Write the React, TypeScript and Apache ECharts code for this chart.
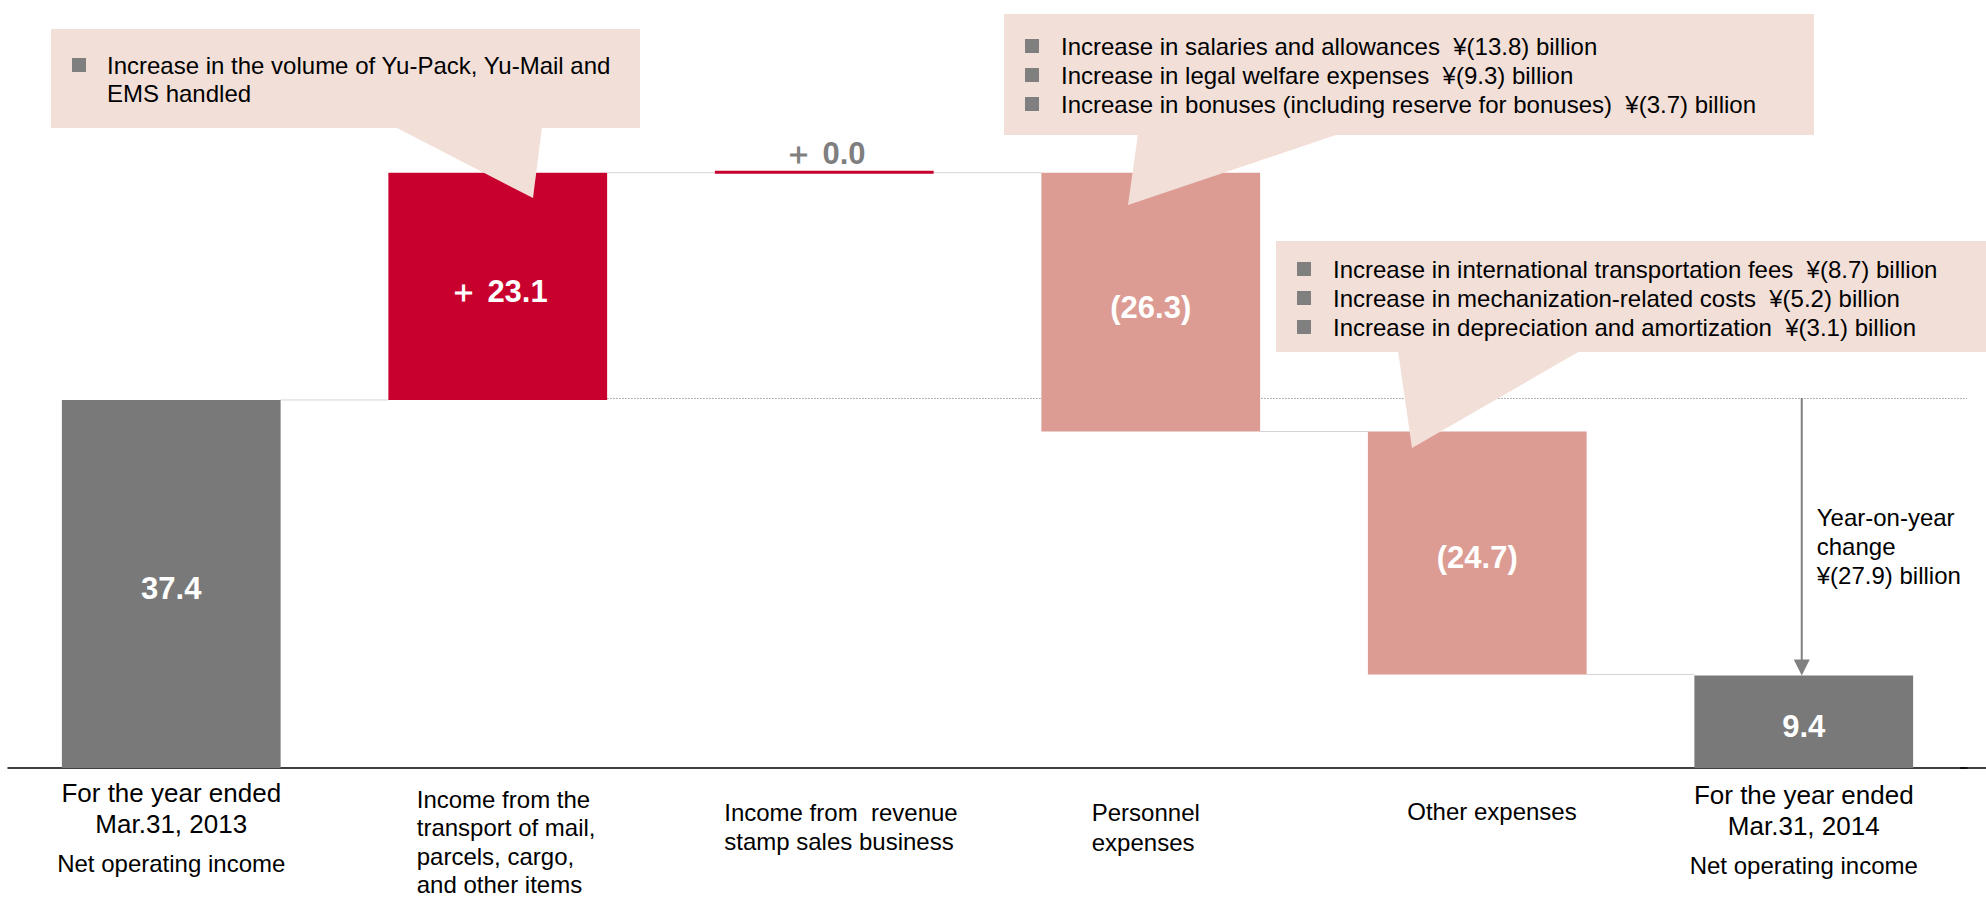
import React, { useEffect, useRef } from 'react';
import * as echarts from 'echarts';

const FONT = "'Liberation Sans', Arial, Helvetica, sans-serif";
const CALLOUT = '#F2DFD8';
const GRAY = '#797979';
const RED = '#C8002E';
const PINK = '#DC9C93';
const BULLET = '#7F7F7F';

const categories = [
  'For the year ended\nMar.31, 2013\nNet operating income',
  'Income from the\ntransport of mail,\nparcels, cargo,\nand other items',
  'Income from  revenue\nstamp sales business',
  'Personnel\nexpenses',
  'Other expenses',
  'For the year ended\nMar.31, 2014\nNet operating income',
];
const startValue = 37.4;
const deltas = [23.1, 0.0, -26.3, -24.7];
const endValue = 9.4;
const barLabels = ['37.4', '\uFF0B 23.1', '\uFF0B 0.0', '(26.3)', '(24.7)', '9.4'];
const yoyLines = ['Year-on-year', 'change', '\u00A5(27.9) billion'];
const callout1Lines = ['Increase in the volume of Yu-Pack, Yu-Mail and', 'EMS handled'];
const callout2Lines = [
  'Increase in salaries and allowances  \u00A5(13.8) billion',
  'Increase in legal welfare expenses  \u00A5(9.3) billion',
  'Increase in bonuses (including reserve for bonuses)  \u00A5(3.7) billion',
];
const callout3Lines = [
  'Increase in international transportation fees  \u00A5(8.7) billion',
  'Increase in mechanization-related costs  \u00A5(5.2) billion',
  'Increase in depreciation and amortization  \u00A5(3.1) billion',
];

// per-category label box padding [top, right, bottom, left]
const labelPads = [
  [0, 0, 0, 0],
  [8, 0, 0, 18],
  [21, 0, 0, 34],
  [20, 8, 0, 0],
  [20, 0, 0, 30],
  [2, 0, 0, 0],
];

function buildItems() {
  // [index, low, high, kind, endLevel]; kind 0 total, 1 up, 2 down, 3 flat
  const items: number[][] = [];
  items.push([0, 0, startValue, 0, startValue]);
  let level = startValue;
  deltas.forEach((d, k) => {
    const next = level + d;
    const kind = d > 0 ? 1 : d < 0 ? 2 : 3;
    items.push([k + 1, Math.min(level, next), Math.max(level, next), kind, next]);
    level = next;
  });
  items.push([categories.length - 1, 0, endValue, 0, endValue]);
  return items;
}

function callout(
  box: number[],
  tail: number[][],
  lines: string[],
  bullets: boolean[],
  bulletX: number,
  textX: number,
  firstY: number,
  lineH: number
) {
  const els: any[] = [
    { type: 'rect', z: 100, shape: { x: box[0], y: box[1], width: box[2], height: box[3] }, style: { fill: CALLOUT } },
    { type: 'polygon', z: 100, shape: { points: tail }, style: { fill: CALLOUT } },
  ];
  lines.forEach((t, k) => {
    const cy = firstY + k * lineH;
    if (bullets[k]) {
      els.push({ type: 'rect', z: 101, shape: { x: bulletX, y: cy - 7, width: 14, height: 14 }, style: { fill: BULLET } });
    }
    els.push({
      type: 'text',
      z: 101,
      x: textX,
      y: cy,
      style: { text: t, fontSize: 24, fontFamily: FONT, fill: '#000', verticalAlign: 'middle', align: 'left' },
    });
  });
  return els;
}

export default function App() {
  const ref = useRef<HTMLDivElement>(null);
  useEffect(() => {
    const chart = echarts.init(ref.current!, null, { renderer: 'svg' });
    const items = buildItems();
    const nCat = categories.length;

    const option: any = {
      animation: false,
      backgroundColor: '#fff',
      grid: { left: 8, right: 19, top: 30, bottom: 131, containLabel: false, outerBoundsMode: 'none' },
      xAxis: {
        type: 'category',
        data: categories.map((c, i) => ({ value: c, textStyle: { padding: labelPads[i] } })),
        axisLine: { show: true, lineStyle: { color: '#000', width: 1.5 } },
        axisTick: { show: false },
        splitLine: { show: false },
        axisLabel: {
          interval: 0,
          margin: 9,
          color: '#000',
          fontFamily: FONT,
          formatter: (value: string, index: number) => {
            const lines = value.split('\n');
            if (index === 0 || index === nCat - 1) {
              return `{yr|${lines[0]}}\n{yr|${lines[1]}}\n{noi|${lines[2]}}`;
            }
            return lines.map((l) => `{c${index}|${l}}`).join('\n');
          },
          rich: {
            yr: { fontSize: 26, lineHeight: 31, fontFamily: FONT, color: '#000' },
            noi: { fontSize: 24, lineHeight: 49, fontFamily: FONT, color: '#000' },
            c1: { fontSize: 24, lineHeight: 28.5, width: 180, align: 'left', fontFamily: FONT, color: '#000' },
            c2: { fontSize: 24, lineHeight: 29, width: 234, align: 'left', fontFamily: FONT, color: '#000' },
            c3: { fontSize: 24, lineHeight: 30, width: 110, align: 'left', fontFamily: FONT, color: '#000' },
            c4: { fontSize: 24, lineHeight: 29, width: 170, align: 'left', fontFamily: FONT, color: '#000' },
          },
        },
      },
      yAxis: {
        type: 'value',
        min: 0,
        max: 75,
        show: false,
        splitLine: { show: false },
      },
      series: [
        {
          type: 'custom',
          encode: { x: 0, y: [1, 2] },
          data: items,
          renderItem: (params: any, api: any) => {
            const i = api.value(0);
            const lo = api.value(1);
            const hi = api.value(2);
            const kind = api.value(3);
            const endLv = api.value(4);
            const pTop = api.coord([i, hi]);
            const pBot = api.coord([i, lo]);
            const band = api.size([1, 0])[0];
            const bw = band * 0.67;
            const cx = pTop[0];
            const x0 = cx - bw / 2;
            const h = pBot[1] - pTop[1];
            const children: any[] = [];

            if (i === 1) {
              const ly = api.coord([i, startValue])[1];
              const cs = params.coordSys;
              children.push({
                type: 'line',
                shape: { x1: x0 + bw, y1: ly - 1.5, x2: cs.x + cs.width, y2: ly - 1.5 },
                style: { stroke: '#9a9a9a', lineWidth: 1, lineDash: [1.5, 1.5] },
              });
            }
            if (i < nCat - 1) {
              const ly = api.coord([i, endLv])[1];
              children.push({
                type: 'line',
                shape: { x1: x0 + bw, y1: ly, x2: x0 + band, y2: ly },
                style: { stroke: '#d4d4d4', lineWidth: 1 },
              });
            }

            const color = kind === 0 ? GRAY : kind === 2 ? PINK : RED;
            if (kind === 3) {
              children.push({
                type: 'rect',
                shape: { x: x0, y: pTop[1] - 2, width: bw, height: 3 },
                style: { fill: RED },
              });
              children.push({
                type: 'text',
                style: {
                  text: barLabels[i],
                  x: cx,
                  y: pTop[1] - 19,
                  align: 'center',
                  verticalAlign: 'middle',
                  fontSize: 31,
                  fontWeight: 'bold',
                  fontFamily: FONT,
                  fill: '#7F7F7F',
                },
              });
            } else {
              children.push({
                type: 'rect',
                shape: { x: x0, y: pTop[1], width: bw, height: h },
                style: { fill: color },
              });
              children.push({
                type: 'text',
                style: {
                  text: barLabels[i],
                  x: cx,
                  y: pTop[1] + h / 2 + 5,
                  align: 'center',
                  verticalAlign: 'middle',
                  fontSize: 31,
                  fontWeight: 'bold',
                  fontFamily: FONT,
                  fill: '#fff',
                },
              });
            }

            if (i === nCat - 1) {
              const yS = api.coord([i, startValue])[1] - 2;
              const yE = pTop[1];
              children.push({
                type: 'line',
                shape: { x1: cx - 2, y1: yS, x2: cx - 2, y2: yE - 12 },
                style: { stroke: '#808080', lineWidth: 2 },
              });
              children.push({
                type: 'polygon',
                shape: { points: [[cx - 10, yE - 16], [cx + 6, yE - 16], [cx - 2, yE]] },
                style: { fill: '#808080' },
              });
              children.push({
                type: 'text',
                style: {
                  text: yoyLines.join('\n'),
                  x: cx + 13,
                  y: (yS + yE) / 2 + 10,
                  align: 'left',
                  verticalAlign: 'middle',
                  fontSize: 24,
                  lineHeight: 29,
                  fontFamily: FONT,
                  fill: '#000',
                },
              });
            }
            return { type: 'group', children };
          },
        },
      ],
      graphic: [
        {
          type: 'line',
          z: 5,
          shape: { x1: 1960, y1: 768, x2: 1986, y2: 768 },
          style: { stroke: '#000', lineWidth: 1.5 },
        },
        ...callout([51, 29, 589, 99], [[395, 127], [542, 127], [533, 198]], callout1Lines, [true, false], 72, 107, 65, 28),
        ...callout([1004, 14, 810, 121], [[1138, 134], [1339, 134], [1128, 205]], callout2Lines, [true, true, true], 1025, 1061, 46, 29),
        ...callout([1276, 241, 710, 111], [[1398, 351], [1580, 351], [1412, 448]], callout3Lines, [true, true, true], 1297, 1333, 269, 29),
      ],
    };
    chart.setOption(option);
    return () => chart.dispose();
  }, []);
  return (
    <div
      ref={ref}
      style={{ position: 'absolute', left: 0, top: 0, width: 1986, height: 899, background: '#fff' }}
    />
  );
}
